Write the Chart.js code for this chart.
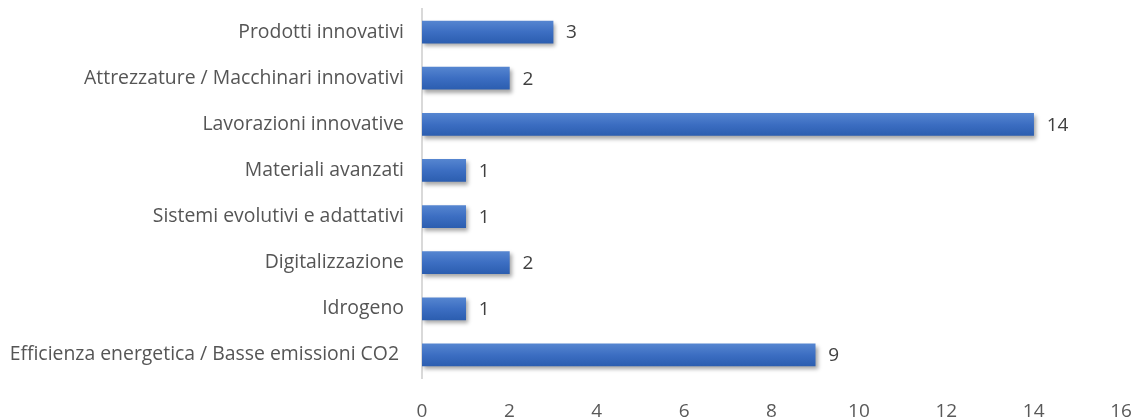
<!DOCTYPE html>
<html lang="it">
<head>
<meta charset="UTF-8">
<title>Ambiti di innovazione</title>
<script src="https://cdn.jsdelivr.net/npm/chart.js"></script>
<style>
  html, body { margin: 0; padding: 0; background: #fff; }
  #wrap { width: 1137px; height: 419px; }
</style>
</head>
<body>
<div id="wrap"><canvas id="grafico"></canvas></div>
<script>
  const categorie = [
    "Prodotti innovativi",
    "Attrezzature / Macchinari innovativi",
    "Lavorazioni innovative",
    "Materiali avanzati",
    "Sistemi evolutivi e adattativi",
    "Digitalizzazione",
    "Idrogeno",
    "Efficienza energetica / Basse emissioni CO2 "
  ];
  const valori = [3, 2, 14, 1, 1, 2, 1, 9];
  const tickX = [0, 2, 4, 6, 8, 10, 12, 14, 16];

  const FONT = "'Open Sans', 'DejaVu Sans', sans-serif";
  const BAR_H = 22;

  // gradiente verticale per ogni barra, calcolato dalla scala y
  function coloreBarra(ctx) {
    const chart = ctx.chart;
    const y = chart.scales.y;
    if (!y || ctx.dataIndex === undefined) return '#3a6cc0';
    const cy = y.getPixelForValue(ctx.dataIndex);
    if (!isFinite(cy)) return '#3a6cc0';
    const g = chart.ctx.createLinearGradient(0, cy - BAR_H / 2, 0, cy + BAR_H / 2);
    g.addColorStop(0, '#5585d0');
    g.addColorStop(0.5, '#3c6ec2');
    g.addColorStop(1, '#2c5eb0');
    return g;
  }

  // ombra sotto le barre
  const ombra = {
    id: 'ombra',
    beforeDatasetsDraw(chart) {
      const c = chart.ctx;
      c.save();
      c.shadowColor = 'rgba(0,0,0,0.35)';
      c.shadowBlur = 4;
      c.shadowOffsetX = 2;
      c.shadowOffsetY = 3;
    },
    afterDatasetsDraw(chart) {
      chart.ctx.restore();
    }
  };

  // etichette con il valore a destra di ogni barra
  const etichette = {
    id: 'etichette',
    afterDatasetsDraw(chart) {
      const c = chart.ctx;
      const meta = chart.getDatasetMeta(0);
      c.save();
      c.font = '19px ' + FONT;
      c.fillStyle = '#404040';
      c.textAlign = 'left';
      c.textBaseline = 'middle';
      meta.data.forEach((bar, i) => {
        c.fillText(String(valori[i]), bar.x + 13, bar.y + 1);
      });
      c.restore();
    }
  };

  new Chart(document.getElementById('grafico'), {
    type: 'bar',
    data: {
      labels: categorie,
      datasets: [{
        data: valori,
        backgroundColor: coloreBarra,
        borderWidth: 0,
        barThickness: BAR_H
      }]
    },
    options: {
      indexAxis: 'y',
      responsive: true,
      maintainAspectRatio: false,
      animation: false,
      layout: { padding: { left: 0, right: 16, top: 9, bottom: 0 } },
      plugins: { legend: { display: false }, tooltip: { enabled: false } },
      scales: {
        x: {
          min: 0,
          max: 16,
          afterBuildTicks(scale) { scale.ticks = tickX.map(v => ({ value: v })); },
          afterFit(scale) {
            scale.height = 41;
            scale.paddingLeft = 0;
            scale.paddingRight = 0;
          },
          grid: { display: false, drawTicks: false },
          border: { display: false },
          ticks: {
            padding: 22,
            color: '#595959',
            font: { family: FONT, size: 19 }
          }
        },
        y: {
          afterFit(scale) {
            scale.width = 422;
            scale.paddingTop = 0;
            scale.paddingBottom = 0;
          },
          grid: { display: false, drawTicks: false },
          border: { display: true, color: '#d9d9d9', width: 2 },
          ticks: {
            padding: 18,
            color: '#555555',
            font: { family: FONT, size: 19.4 }
          }
        }
      }
    },
    plugins: [ombra, etichette]
  });
</script>
</body>
</html>
